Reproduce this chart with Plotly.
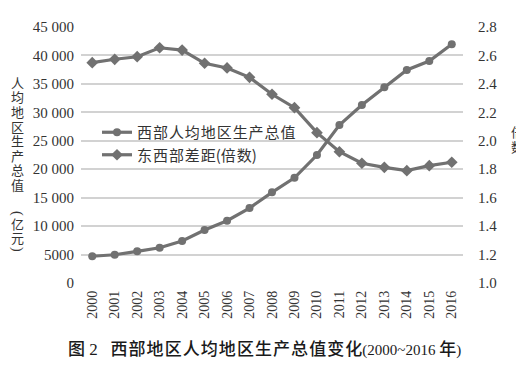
import plotly.graph_objects as go

years = [str(y) for y in range(2000, 2017)]
gdp = [4700, 4970, 5570, 6200, 7380, 9320, 10950, 13180, 15940, 18500,
       22500, 27770, 31290, 34400, 37440, 39020, 41960]
ratio = [2.549, 2.573, 2.591, 2.654, 2.638, 2.545, 2.512, 2.446, 2.327, 2.233,
         2.057, 1.923, 1.842, 1.813, 1.790, 1.825, 1.849]
left_ticks = [0, 5000, 10000, 15000, 20000, 25000, 30000, 35000, 40000, 45000]
left_labels = ["0", "5000", "10 000", "15 000", "20 000", "25 000", "30 000",
               "35 000", "40 000", "45 000"]
right_ticks = [1.0, 1.2, 1.4, 1.6, 1.8, 2.0, 2.2, 2.4, 2.6, 2.8]
right_labels = ["1.0", "1.2", "1.4", "1.6", "1.8", "2.0", "2.2", "2.4", "2.6", "2.8"]

name1 = "西部人均地区生产总值"
name2a = "东西部差距"
name2b = "倍数"
title_a = "图"
title_num = "2"
title_b = "西部地区人均地区生产总值变化"
title_years = "(2000~2016\u00a0"
title_c = "年"
title_end = ")"
ytitle_chars = ["人", "均", "地", "区", "生", "产", "总", "值", "(", "亿", "元", ")"]
y2title_chars = ["倍", "数"]

def spaced(s, sp="\u200a"):
    return sp.join(list(s))

LINE = "#717171"
SERIF = "Liberation Serif, Times New Roman, serif"
CJK = "Noto Sans CJK SC"

# plot area in pixels
L, R, T, B = 81, 463, 27, 283
PW, PH = R - L, B - T

def px(x):
    return (x - L) / PW

def py(y):
    return (B - y) / PH

fig = go.Figure()
fig.add_trace(go.Scatter(
    x=years, y=gdp, name=spaced(name1), mode="lines+markers",
    line=dict(color=LINE, width=3.2), marker=dict(symbol="circle", size=8, color=LINE),
    yaxis="y"))
fig.add_trace(go.Scatter(
    x=years, y=ratio, name=spaced(name2a) + "(" + spaced(name2b) + ")", mode="lines+markers",
    line=dict(color=LINE, width=3.2), marker=dict(symbol="diamond", size=9, color=LINE),
    yaxis="y2"))

fig.update_layout(
    width=516, height=373,
    margin=dict(l=L, r=516 - R, t=T, b=373 - B),
    paper_bgcolor="white", plot_bgcolor="white",
    showlegend=True,
    legend=dict(x=px(97), y=py(116), xanchor="left", yanchor="top",
                bgcolor="rgba(0,0,0,0)", font=dict(family=CJK, size=15, color="#333"),
                tracegroupgap=0, itemwidth=30),
    xaxis=dict(type="category", range=[-0.5, 16.5], tickangle=-90,
               tickfont=dict(family=SERIF, size=14, color="#333"),
               showgrid=False, showline=False, ticks="", zeroline=False,
               ticklabelstandoff=4),
    yaxis=dict(range=[0, 45000], tickvals=left_ticks, ticktext=left_labels,
               tickfont=dict(family=SERIF, size=15, color="#333"),
               showgrid=True, gridcolor="#d2d2d2", gridwidth=1.5, zeroline=False,
               showline=False, ticks="", ticklabelstandoff=6),
    yaxis2=dict(range=[1.0, 2.8], tickvals=right_ticks, ticktext=right_labels,
                overlaying="y", side="right",
                tickfont=dict(family=SERIF, size=15, color="#333"),
                showgrid=False, zeroline=False, showline=False, ticks="",
                ticklabelstandoff=14),
)

ypos = [82, 96, 111, 126, 140, 155, 169, 184, 213, 223, 237, 249]
for ch, yy in zip(ytitle_chars, ypos):
    is_paren = ch in "()"
    fig.add_annotation(
        text=ch, xref="paper", yref="paper", x=px(17), y=py(yy),
        xanchor="center", yanchor="middle", showarrow=False,
        textangle=90 if is_paren else 0,
        font=dict(family=SERIF if is_paren else CJK, size=14 if is_paren else 13, color="#333"))
for ch, yy in zip(y2title_chars, [131, 146]):
    fig.add_annotation(
        text=ch, xref="paper", yref="paper", x=px(517), y=py(yy),
        xanchor="center", yanchor="middle", showarrow=False,
        font=dict(family=CJK, size=13, color="#333"))

ser_big = '<span style="font-family:Liberation Serif">'
ser_small = '<span style="font-family:Liberation Serif;font-size:15px">'
title_html = (title_a + ser_big + "\u00a0" + title_num + "\u00a0\u00a0\u00a0</span>"
              + spaced(title_b, "\u200a")
              + ser_small + title_years + "</span>" + title_c + ser_small + title_end + "</span>")
fig.add_annotation(
    text=title_html,
    xref="paper", yref="paper", x=px(264), y=py(347),
    xanchor="center", yanchor="middle", showarrow=False,
    font=dict(family=CJK, size=17, color="#1a1a1a", weight=500))

fig.write_html("out.html", post_script="document.body.style.margin='0';",
               config={"displayModeBar": False})
